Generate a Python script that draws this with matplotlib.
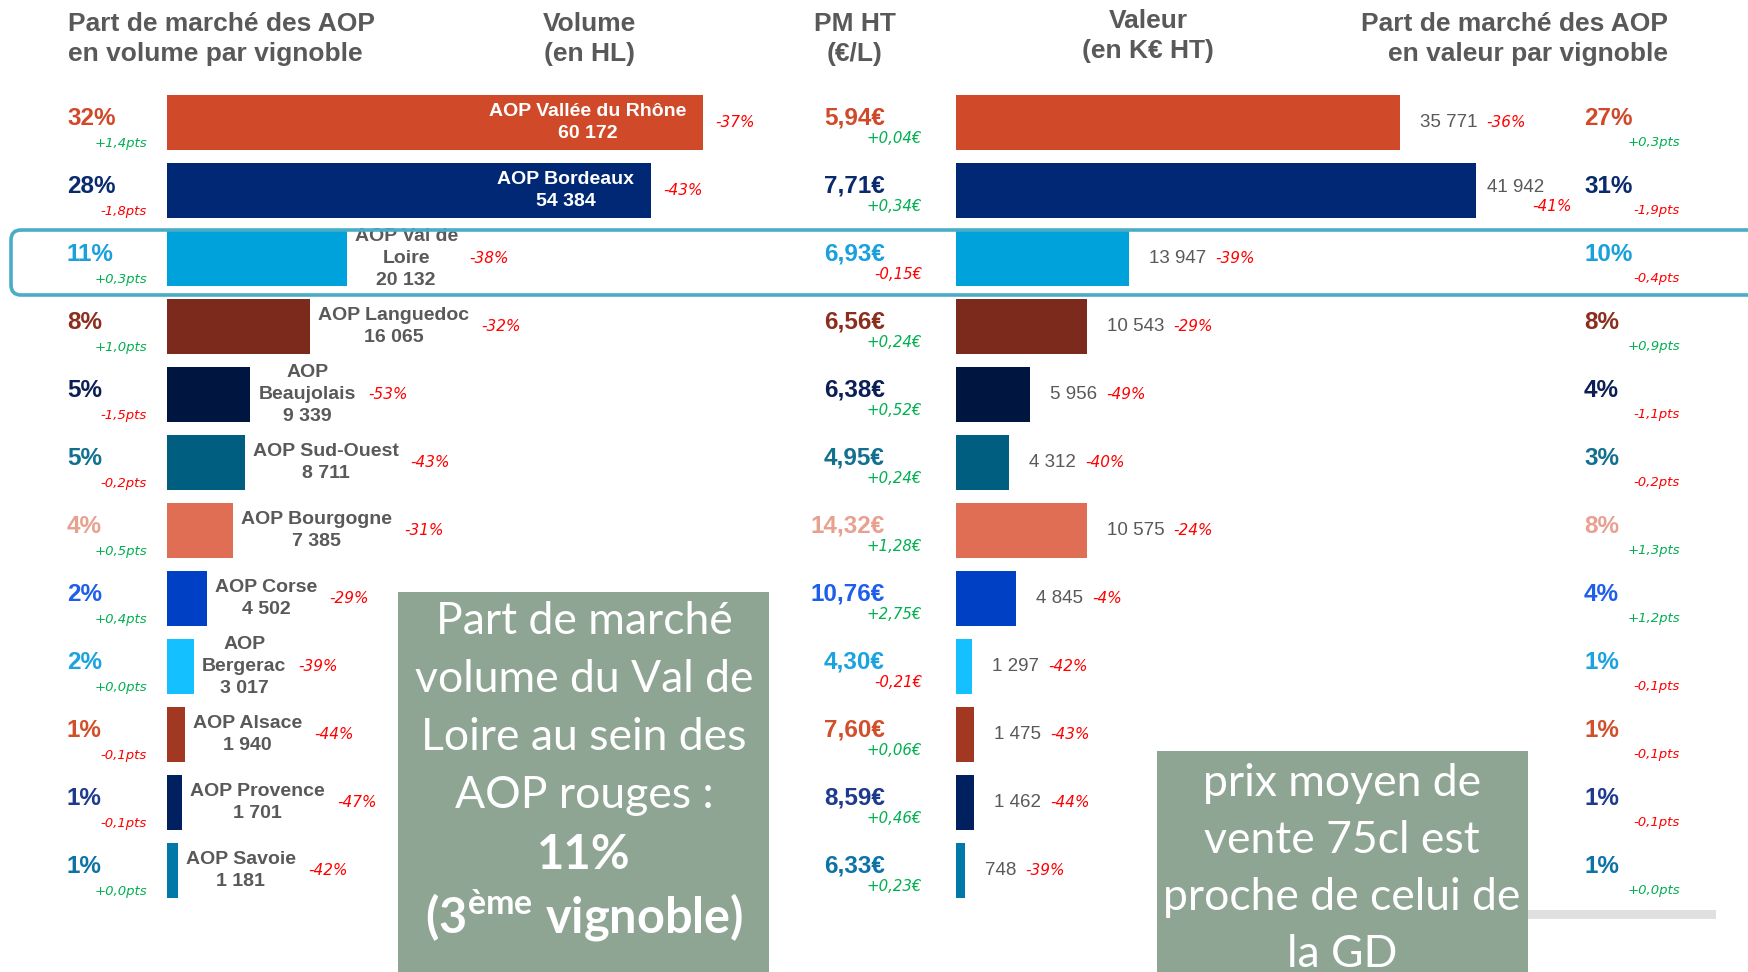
import matplotlib
matplotlib.use("Agg")
import matplotlib.pyplot as plt
from matplotlib.patches import FancyBboxPatch, Rectangle

vignobles = ["AOP Vallée du Rhône", "AOP Bordeaux", "AOP Val de\nLoire", "AOP Languedoc",
             "AOP\nBeaujolais", "AOP Sud-Ouest", "AOP Bourgogne", "AOP Corse",
             "AOP\nBergerac", "AOP Alsace", "AOP Provence", "AOP Savoie"]
volume_hl = [60172, 54384, 20132, 16065, 9339, 8711, 7385, 4502, 3017, 1940, 1701, 1181]
volume_evol = ["-37%", "-43%", "-38%", "-32%", "-53%", "-43%", "-31%", "-29%", "-39%", "-44%", "-47%", "-42%"]
pdm_volume = ["32%", "28%", "11%", "8%", "5%", "5%", "4%", "2%", "2%", "1%", "1%", "1%"]
pdm_volume_evol = ["+1,4pts", "-1,8pts", "+0,3pts", "+1,0pts", "-1,5pts", "-0,2pts",
                   "+0,5pts", "+0,4pts", "+0,0pts", "-0,1pts", "-0,1pts", "+0,0pts"]
pm_ht = ["5,94€", "7,71€", "6,93€", "6,56€", "6,38€", "4,95€", "14,32€", "10,76€", "4,30€", "7,60€", "8,59€", "6,33€"]
pm_evol = ["+0,04€", "+0,34€", "-0,15€", "+0,24€", "+0,52€", "+0,24€",
           "+1,28€", "+2,75€", "-0,21€", "+0,06€", "+0,46€", "+0,23€"]
valeur_keur = [35771, 41942, 13947, 10543, 5956, 4312, 10575, 4845, 1297, 1475, 1462, 748]
valeur_evol = ["-36%", "-41%", "-39%", "-29%", "-49%", "-40%", "-24%", "-4%", "-42%", "-43%", "-44%", "-39%"]
pdm_valeur = ["27%", "31%", "10%", "8%", "4%", "3%", "8%", "4%", "1%", "1%", "1%", "1%"]
pdm_valeur_evol = ["+0,3pts", "-1,9pts", "-0,4pts", "+0,9pts", "-1,1pts", "-0,2pts",
                   "+1,3pts", "+1,2pts", "-0,1pts", "-0,1pts", "-0,1pts", "+0,0pts"]

# couleurs par vignoble
bar_colors = ["#D04A2A", "#002874", "#00A2DB", "#7B2A1C", "#001640", "#005E80",
              "#E06E55", "#0040C4", "#14C0FF", "#A33822", "#002060", "#0078A8"]
txt_colors = ["#D04A2A", "#0A2A6E", "#1AA0DC", "#8B2E1E", "#0B1E55", "#12708F",
              "#E8A090", "#1F5EEB", "#1AA3DE", "#D0502C", "#1E3A8C", "#0D73A6"]
GRAY = "#595959"
GREEN = "#00B050"
RED = "#FF0000"
SAGE = "#8FA594"

plt.rcParams["font.family"] = ["Liberation Sans", "DejaVu Sans"]
plt.rcParams["mathtext.fontset"] = "custom"
plt.rcParams["mathtext.bf"] = "Lato:bold"
plt.rcParams["mathtext.rm"] = "Lato"

W, H = 1748, 972
ROW0, PITCH = 122.5, 68.0
n = len(vignobles)
rows = list(range(n))


def fmt(v):
    return f"{v:,}".replace(",", " ")


def evo_color(s):
    return GREEN if s.startswith("+") else RED


def row_y(i):
    return ROW0 + i * PITCH


small = dict(family="DejaVu Sans", style="oblique")

fig = plt.figure(figsize=(W / 100, H / 100), dpi=100)
fig.patch.set_facecolor("white")

ax_bottom = 1 - (ROW0 + (n - 0.5) * PITCH) / H
ax_height = n * PITCH / H

# barres volume
axv = fig.add_axes([167.3 / W, ax_bottom, 623.2 / W, ax_height])
axv.barh(rows, volume_hl, height=0.8, color=bar_colors)
axv.set_xlim(0, 70000)
axv.set_ylim(n - 0.5, -0.5)
axv.axis("off")

# barres valeur
axval = fig.add_axes([956 / W, ax_bottom, 620 / W, ax_height])
axval.barh(rows, valeur_keur, height=0.8, color=bar_colors)
axval.set_xlim(0, 50000)
axval.set_ylim(n - 0.5, -0.5)
axval.axis("off")

# calque texte (pixels)
bg = fig.add_axes([0, 0, 1, 1], zorder=3)
bg.set_xlim(0, W)
bg.set_ylim(H, 0)
bg.axis("off")

# en-têtes
hdr = dict(fontsize=19, fontweight="bold", color=GRAY, va="center", linespacing=1.3)
bg.text(68, 39, "Part de marché des AOP\nen volume par vignoble", ha="left", ma="left", **hdr)
bg.text(589, 39, "Volume\n(en HL)", ha="center", ma="center", **hdr)
bg.text(855, 39, "PM HT\n(€/L)", ha="center", ma="center", **hdr)
bg.text(1148, 36, "Valeur\n(en K€ HT)", ha="center", ma="center", **hdr)
bg.text(1668, 39, "Part de marché des AOP\nen valeur par vignoble", ha="right", ma="right", **hdr)

# encadré Val de Loire
bg.add_patch(FancyBboxPatch((11, 230), 1800, 65, boxstyle="round,pad=0,rounding_size=10",
                            fc="none", ec="#4BACC6", lw=2.6, zorder=2))

for i in rows:
    y = row_y(i)
    c = txt_colors[i]
    # part de marché volume
    bg.text(67, y - 4, pdm_volume[i], ha="left", va="center", fontsize=17.5,
            fontweight="bold", color=c)
    bg.text(147, y + 21, pdm_volume_evol[i], ha="right", va="center", fontsize=9.5,
            color=evo_color(pdm_volume_evol[i]), **small)
    # prix moyen
    bg.text(885, y - 5, pm_ht[i], ha="right", va="center", fontsize=17.5,
            fontweight="bold", color=c)
    bg.text(922, y + 16, pm_evol[i], ha="right", va="center", fontsize=10.8,
            color=evo_color(pm_evol[i]), **small)
    # part de marché valeur
    bg.text(1584, y - 4, pdm_valeur[i], ha="left", va="center", fontsize=17.5,
            fontweight="bold", color=c)
    bg.text(1680, y + 20, pdm_valeur_evol[i], ha="right", va="center", fontsize=9.5,
            color=evo_color(pdm_valeur_evol[i]), **small)

# libellés volume
lab_style = dict(fontsize=14, fontweight="bold", va="center", ma="center", linespacing=1.35)
for i, (name, v) in enumerate(zip(vignobles, volume_hl)):
    lab = f"{name}\n{fmt(v)}"
    ev = volume_evol[i]
    if v > 0.5 * max(volume_hl):
        axv.annotate(lab, (v, i), xytext=(-17, 0), textcoords="offset pixels",
                     ha="right", color="white", **lab_style)
        axv.annotate(ev, (v, i), xytext=(12, 0), textcoords="offset pixels",
                     ha="left", va="center", fontsize=11, color=evo_color(ev), **small)
    else:
        t = axv.annotate(lab, (v, i), xytext=(8, 0), textcoords="offset pixels",
                         ha="left", color=GRAY, zorder=4, **lab_style)
        axv.annotate(ev, xy=(1, 0.5), xycoords=t, xytext=(12, 0), textcoords="offset pixels",
                     ha="left", va="center", fontsize=11, color=evo_color(ev), **small)

# libellés valeur
for i, v in enumerate(valeur_keur):
    ev = valeur_evol[i]
    end_px = axval.transData.transform((v, i))[0]
    below = end_px + 150 > 1584
    num = axval.annotate(fmt(v), (v, i), xytext=(11, 3) if below else (20, 0),
                         textcoords="offset pixels", ha="left", va="center",
                         fontsize=13.5, color=GRAY)
    if below:
        axval.annotate(ev, xy=(1, 0), xycoords=num, xytext=(-12, -3), textcoords="offset pixels",
                       ha="left", va="top", fontsize=11, color=evo_color(ev), **small)
    else:
        axval.annotate(ev, xy=(1, 0.5), xycoords=num, xytext=(9, 0), textcoords="offset pixels",
                       ha="left", va="center", fontsize=11, color=evo_color(ev), **small)

# trait gris en bas à droite
bg.add_patch(Rectangle((1480, 910), 236, 9, fc="#E0E0E0", ec="none", zorder=4))

# encadrés commentaires
box_font = dict(family="Lato", color="white", ha="center", va="center", zorder=6)
bg.add_patch(Rectangle((398, 592), 371, 400, fc=SAGE, ec="none", zorder=5))
box1 = ["Part de marché", "volume du Val de", "Loire au sein des", "AOP rouges :"]
for k, line in enumerate(box1):
    bg.text(584, 621 + k * 58, line, fontsize=32, **box_font)
bg.text(584, 855, "11%", fontsize=34, fontweight="bold", **box_font)
bg.text(584, 916, r"(3$^{\mathbf{ème}}$ vignoble)", fontsize=35, fontweight="bold", **box_font)

bg.add_patch(Rectangle((1157, 751), 371, 300, fc=SAGE, ec="none", zorder=5))
box2 = ["prix moyen de", "vente 75cl est", "proche de celui de", "la GD"]
for k, line in enumerate(box2):
    bg.text(1342, 783 + k * 57, line, fontsize=32, **box_font)

fig.savefig("out.png", dpi=100)
